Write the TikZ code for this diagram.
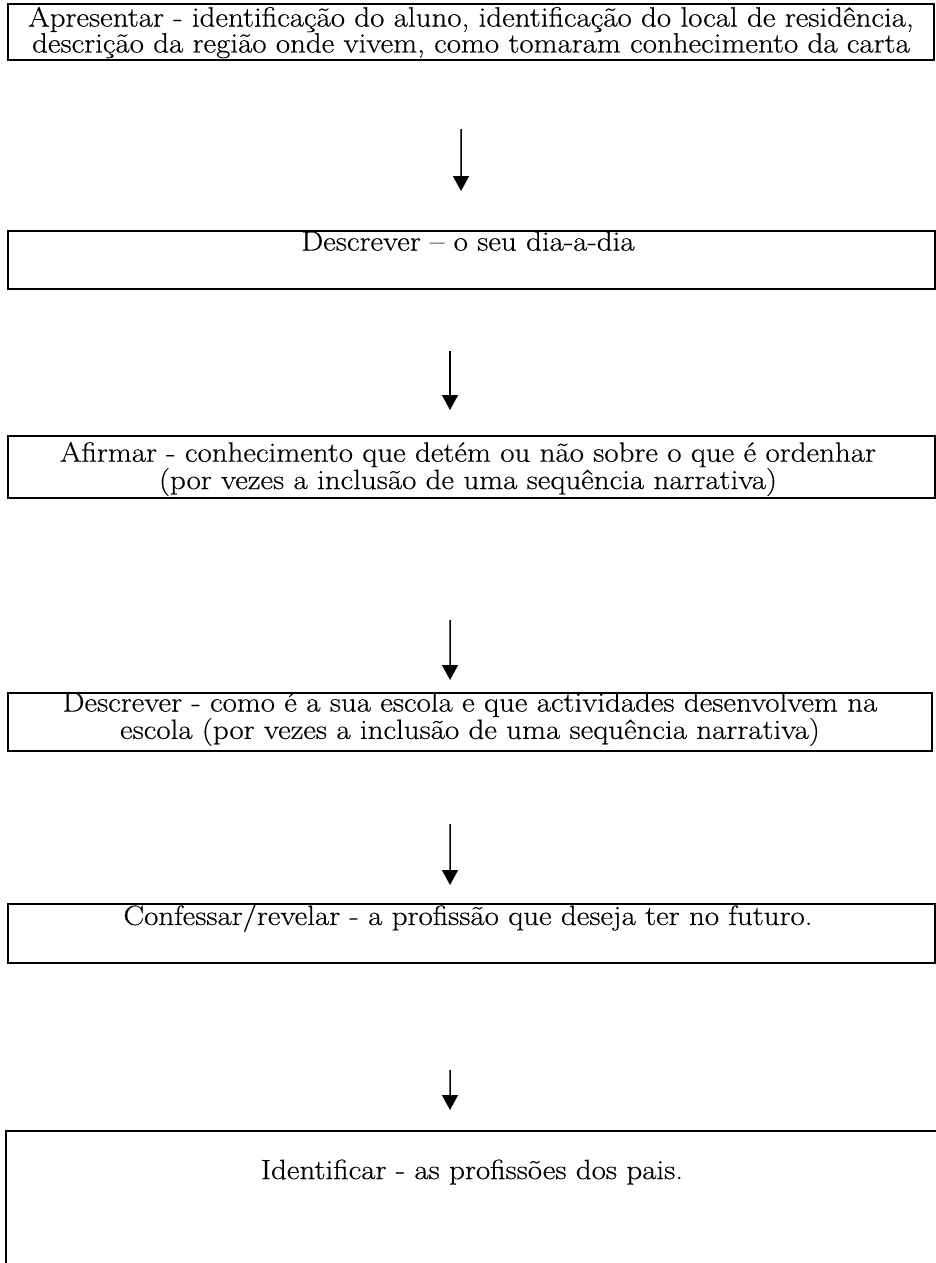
\documentclass[tikz,border=0pt]{standalone}
\usepackage{fontspec}
\setmainfont{Latin Modern Roman}
\newfontfamily\stepfont[FakeStretch=1.11,FakeBold=0.4]{Latin Modern Roman}
\usetikzlibrary{arrows.meta}
\tikzset{
  stepbox/.style={draw, line width=2bp, inner sep=0pt, anchor=north west},
  steptext/.style={font=\stepfont\fontsize{28}{25}\selectfont, align=center, inner sep=0pt},
  flow/.style={line width=1.5bp, -{Triangle[width=16bp,length=15bp]}}
}
\begin{document}
\begin{tikzpicture}[x=1bp,y=-1bp]
\useasboundingbox (0,0) rectangle (936,1263);

% boxes
\node[stepbox, minimum width=926bp, minimum height=56bp] (b1) at (7,3) {};
\node[stepbox, minimum width=927bp, minimum height=58bp] (b2) at (7,230) {};
\node[stepbox, minimum width=927bp, minimum height=62bp] (b3) at (7,435) {};
\node[stepbox, minimum width=924bp, minimum height=58bp] (b4) at (7,692) {};
\node[stepbox, minimum width=927bp, minimum height=59bp] (b5) at (7,903) {};
\node[stepbox, minimum width=1000bp, minimum height=200bp] (b6) at (5,1130) {};

% texts
\node[steptext] (t1) at (471,32.5) {Apresentar - identificação do aluno, identificação do local de residência,\\descrição da região onde vivem, como tomaram conhecimento da carta};
\node[steptext] (t2) at (468,241) {Descrever – o seu dia-a-dia};
\node[steptext] (t3) at (468,469) {Afirmar - conhecimento que detém ou não sobre o que é ordenhar\\(por vezes a inclusão de uma sequência narrativa)};
\node[steptext] (t4) at (470,719) {Descrever - como é a sua escola e que actividades desenvolvem na\\escola (por vezes a inclusão de uma sequência narrativa)};
\node[steptext] (t5) at (468,918) {Confessar/revelar - a profissão que deseja ter no futuro.};
\node[steptext] (t6) at (472,1172) {Identificar - as profissões dos pais.};

% connectors
\draw[flow] ([shift={(-10,68)}]b1.south) -- ([shift={(-10.5,-39)}]b2.north);
\draw[flow] ([shift={(-21.5,61)}]b2.south) -- ([shift={(-21.5,-25)}]b3.north);
\draw[flow] ([shift={(-21.5,121)}]b3.south) -- ([shift={(-20,-12)}]b4.north);
\draw[flow] ([shift={(-20,72)}]b4.south) -- ([shift={(-21.5,-18)}]b5.north);
\draw[flow] ([shift={(-21.5,106)}]b5.south) -- ([shift={(-56,-20)}]b6.north);
\end{tikzpicture}
\end{document}
